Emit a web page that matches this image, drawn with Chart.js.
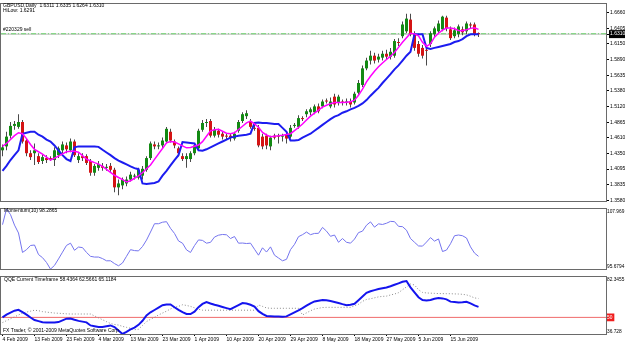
<!DOCTYPE html>
<html>
<head>
<meta charset="utf-8">
<script src="https://cdn.jsdelivr.net/npm/chart.js@4/dist/chart.umd.min.js"></script>
<style>
  html, body { margin: 0; padding: 0; background: #fff; }
  #wrap { position: relative; width: 625px; height: 343px; overflow: hidden; }
  canvas { position: absolute; left: 0; }
</style>
</head>
<body>
<div id="wrap">
  <canvas id="main" width="625" height="205" style="top:0px"></canvas>
  <canvas id="mom" width="625" height="68" style="top:205px"></canvas>
  <canvas id="qqe" width="625" height="70" style="top:273px"></canvas>
</div>
<script>
// GBPUSD daily bars, 4 Feb 2009 .. 23 Jun 2009 (Sunday bars included)
var opens = [
  1.4404,1.4468,1.4644,1.4804,1.4788,1.4868,1.4564,1.4356,1.4356,1.4308,
  1.4228,1.4276,1.4276,1.4244,1.4324,1.4404,1.4484,1.4404,1.4548,1.4244,
  1.4308,1.4308,1.4228,1.4036,1.4116,1.4148,1.4116,1.4148,1.4084,1.3796,
  1.3828,1.3860,1.3924,1.3972,1.3956,1.3988,1.4084,1.4276,1.4500,1.4468,
  1.4484,1.4548,1.4708,1.4548,1.4436,1.4308,1.4260,1.4260,1.4356,1.4436,
  1.4740,1.4852,1.4884,1.4644,1.4724,1.4676,1.4644,1.4644,1.4596,1.4724,
  1.4884,1.4964,1.4884,1.4772,1.4772,1.4628,1.4644,1.4468,1.4644,1.4644,
  1.4628,1.4660,1.4628,1.4804,1.4788,1.4932,1.4996,1.5028,1.5028,1.5124,
  1.5124,1.5220,1.5124,1.5284,1.5188,1.5204,1.5188,1.5204,1.5188,1.5348,
  1.5476,1.5748,1.5876,1.5956,1.5892,1.5924,1.5988,1.5940,1.5956,1.6180,
  1.6276,1.6356,1.6548,1.6308,1.6148,1.6084,1.6052,1.6148,1.6308,1.6356,
  1.6388,1.6580,1.6388,1.6276,1.6308,1.6388,1.6356,1.6468,1.6468,1.6311
];
var highs = [
  1.4500,1.4708,1.4868,1.4884,1.4996,1.4900,1.4596,1.4404,1.4516,1.4356,
  1.4340,1.4324,1.4308,1.4452,1.4468,1.4548,1.4532,1.4596,1.4580,1.4356,
  1.4356,1.4340,1.4260,1.4180,1.4228,1.4196,1.4180,1.4196,1.4116,1.3924,
  1.3956,1.3972,1.4052,1.4020,1.4116,1.4148,1.4308,1.4548,1.4548,1.4532,
  1.4612,1.4788,1.4756,1.4580,1.4468,1.4356,1.4356,1.4388,1.4516,1.4756,
  1.4900,1.4916,1.4916,1.4788,1.4756,1.4708,1.4676,1.4676,1.4708,1.4900,
  1.5028,1.5060,1.4916,1.4820,1.4820,1.4676,1.4676,1.4644,1.4676,1.4676,
  1.4676,1.4692,1.4820,1.4852,1.4980,1.4964,1.5076,1.5108,1.5156,1.5172,
  1.5236,1.5252,1.5268,1.5332,1.5316,1.5236,1.5252,1.5252,1.5364,1.5556,
  1.5796,1.5924,1.6036,1.6004,1.5988,1.6036,1.6052,1.6084,1.6228,1.6244,
  1.6516,1.6644,1.6644,1.6356,1.6196,1.6132,1.6100,1.6356,1.6436,1.6532,
  1.6612,1.6612,1.6436,1.6420,1.6468,1.6436,1.6516,1.6500,1.6500,1.6335
];
var lows = [
  1.4308,1.4404,1.4596,1.4740,1.4756,1.4516,1.4308,1.4244,1.4164,1.4180,
  1.4180,1.4196,1.4228,1.4148,1.4276,1.4356,1.4356,1.4372,1.4292,1.4196,
  1.4228,1.4164,1.3988,1.3988,1.4068,1.4068,1.4068,1.4036,1.3716,1.3668,
  1.3764,1.3812,1.3892,1.3924,1.3924,1.3924,1.4052,1.4244,1.4420,1.4420,
  1.4436,1.4516,1.4532,1.4436,1.4308,1.4228,1.4116,1.4212,1.4324,1.4404,
  1.4708,1.4788,1.4612,1.4612,1.4612,1.4580,1.4580,1.4548,1.4564,1.4692,
  1.4852,1.4916,1.4756,1.4724,1.4452,1.4420,1.4420,1.4404,1.4580,1.4516,
  1.4548,1.4516,1.4596,1.4772,1.4756,1.4884,1.4948,1.4980,1.4996,1.5012,
  1.5092,1.5172,1.5092,1.5108,1.5140,1.5140,1.5140,1.5108,1.5156,1.5316,
  1.5444,1.5716,1.5812,1.5828,1.5844,1.5876,1.5892,1.5892,1.5924,1.6116,
  1.6244,1.6324,1.6276,1.6036,1.5940,1.5908,1.5796,1.6100,1.6260,1.6324,
  1.6356,1.6356,1.6212,1.6244,1.6260,1.6292,1.6308,1.6404,1.6276,1.6264
];
var closes = [
  1.4452,1.4628,1.4804,1.4836,1.4868,1.4548,1.4356,1.4292,1.4404,1.4212,
  1.4292,1.4244,1.4260,1.4404,1.4436,1.4500,1.4420,1.4548,1.4324,1.4308,
  1.4276,1.4196,1.4036,1.4148,1.4180,1.4116,1.4132,1.4084,1.3796,1.3860,
  1.3924,1.3924,1.4004,1.3988,1.4084,1.4100,1.4276,1.4516,1.4468,1.4484,
  1.4564,1.4756,1.4564,1.4484,1.4356,1.4260,1.4308,1.4356,1.4484,1.4724,
  1.4852,1.4868,1.4644,1.4740,1.4660,1.4628,1.4628,1.4612,1.4676,1.4868,
  1.4996,1.5012,1.4788,1.4756,1.4484,1.4468,1.4484,1.4612,1.4612,1.4628,
  1.4644,1.4596,1.4772,1.4820,1.4932,1.4916,1.5044,1.5076,1.5124,1.5044,
  1.5204,1.5204,1.5204,1.5156,1.5284,1.5188,1.5204,1.5156,1.5332,1.5508,
  1.5748,1.5876,1.5956,1.5876,1.5940,1.5988,1.5940,1.6020,1.6196,1.6164,
  1.6468,1.6564,1.6308,1.6084,1.5988,1.5956,1.6036,1.6324,1.6404,1.6484,
  1.6596,1.6404,1.6244,1.6372,1.6436,1.6340,1.6484,1.6452,1.6308,1.6310
];
// fast moving average (magenta)
var maFast = [
  1.4468,1.4516,1.4580,1.4644,1.4692,1.4676,1.4596,1.4500,1.4420,1.4380,
  1.4340,1.4292,1.4244,1.4276,1.4308,1.4346,1.4380,1.4388,1.4388,1.4372,
  1.4316,1.4260,1.4228,1.4201,1.4177,1.4140,1.4090,1.4041,1.3994,1.3958,
  1.3922,1.3886,1.3905,1.3945,1.3985,1.4036,1.4100,1.4164,1.4254,1.4345,
  1.4434,1.4526,1.4548,1.4540,1.4508,1.4476,1.4444,1.4450,1.4471,1.4490,
  1.4545,1.4634,1.4724,1.4742,1.4748,1.4716,1.4684,1.4676,1.4690,1.4745,
  1.4799,1.4854,1.4884,1.4838,1.4783,1.4697,1.4655,1.4628,1.4634,1.4641,
  1.4650,1.4663,1.4676,1.4727,1.4778,1.4836,1.4900,1.4964,1.5014,1.5063,
  1.5111,1.5143,1.5169,1.5188,1.5188,1.5188,1.5193,1.5199,1.5225,1.5306,
  1.5407,1.5526,1.5618,1.5702,1.5775,1.5836,1.5894,1.5948,1.6009,1.6092,
  1.6175,1.6250,1.6324,1.6314,1.6281,1.6175,1.6110,1.6148,1.6260,1.6324,
  1.6374,1.6410,1.6412,1.6398,1.6370,1.6366,1.6383,1.6404,1.6414,1.6388
];
// trailing line (blue)
var trail = [
  1.4068,1.4148,1.4244,1.4324,1.4404,1.4676,1.4692,1.4708,1.4708,1.4660,
  1.4628,1.4580,1.4548,1.4484,1.4404,1.4324,1.4260,1.4228,1.4452,1.4468,
  1.4468,1.4468,1.4468,1.4468,1.4460,1.4412,1.4367,1.4324,1.4276,1.4236,
  1.4204,1.4172,1.4140,1.4111,1.4094,1.3860,1.3852,1.3860,1.3868,1.3892,
  1.3988,1.4068,1.4156,1.4244,1.4324,1.4540,1.4532,1.4524,1.4516,1.4404,
  1.4396,1.4420,1.4452,1.4484,1.4516,1.4548,1.4580,1.4612,1.4628,1.4644,
  1.4652,1.4660,1.4676,1.4852,1.4860,1.4852,1.4852,1.4844,1.4836,1.4836,
  1.4772,1.4708,1.4564,1.4564,1.4572,1.4612,1.4644,1.4676,1.4724,1.4772,
  1.4820,1.4868,1.4916,1.4956,1.4980,1.5020,1.5044,1.5076,1.5100,1.5132,
  1.5172,1.5228,1.5300,1.5364,1.5428,1.5508,1.5580,1.5652,1.5732,1.5796,
  1.5876,1.5956,1.6020,1.6308,1.6308,1.6308,1.6084,1.6068,1.6084,1.6100,
  1.6116,1.6132,1.6148,1.6180,1.6196,1.6228,1.6276,1.6308,1.6308,1.6308
];
var momentum = [
  104.75,107.97,106.80,104.66,103.05,99.08,99.65,100.50,100.60,98.65,
  98.02,97.04,95.68,96.44,97.76,99.14,100.52,100.97,99.52,100.18,
  100.07,99.08,98.29,98.14,98.14,97.83,97.38,97.38,96.81,96.36,
  96.93,98.29,99.65,99.46,99.40,100.29,101.60,103.24,104.94,104.94,
  105.25,105.36,104.00,102.96,101.43,100.97,99.61,99.08,100.48,101.64,
  101.54,100.97,101.14,102.22,102.60,102.75,102.68,101.92,102.33,100.97,
  101.00,100.90,100.97,99.73,98.52,100.03,99.16,100.22,98.52,97.95,
  97.38,97.68,99.65,100.73,102.30,102.71,103.24,102.71,102.96,102.98,
  104.19,103.43,102.37,102.64,101.16,101.92,101.16,100.97,101.81,103.13,
  103.43,104.64,105.32,104.24,104.91,104.79,105.04,105.42,105.36,104.41,
  104.34,103.62,101.92,101.16,100.41,100.37,101.20,102.11,101.39,101.84,
  99.27,99.57,100.86,102.49,102.64,102.49,102.03,100.22,98.95,98.2865
];
var qqeRsi = [
  49.96,52.16,53.83,55.36,56.04,54.21,52.16,49.88,47.90,46.99,
  46.08,45.85,45.85,45.85,46.23,47.60,48.97,49.12,48.13,47.22,
  46.61,46.00,43.57,42.96,42.35,42.35,42.96,43.57,42.28,39.50,
  36.73,38.50,40.38,41.82,44.03,47.30,51.63,54.06,55.89,57.79,
  59.77,60.30,60.30,58.09,56.04,54.14,52.69,52.69,54.52,58.17,
  60.75,62.27,61.13,60.07,59.23,58.32,57.41,56.50,58.17,59.77,
  61.44,61.06,60.07,58.55,54.97,52.77,51.10,50.95,50.79,50.64,
  50.49,50.79,52.47,54.06,55.66,57.41,59.31,61.21,62.73,63.34,
  63.95,63.64,63.03,62.35,61.51,60.60,59.77,60.07,60.83,63.72,
  66.68,69.57,70.87,71.78,72.61,73.22,73.83,74.89,76.03,77.18,
  78.39,79.00,73.98,70.03,66.08,63.87,63.49,63.87,64.86,65.54,
  65.16,64.40,62.58,62.27,61.97,62.05,62.50,61.21,59.61,58.4364
];
var qqeTrail = [
  45.85,47.37,48.89,50.41,51.93,53.45,54.21,54.97,55.73,55.35,
  54.59,54.21,53.83,53.45,53.30,53.07,52.85,52.69,52.69,52.69,
  52.69,52.69,52.69,51.17,49.65,48.13,46.61,45.09,44.33,43.87,
  42.81,42.05,41.29,40.15,40.53,43.57,46.61,48.51,50.03,51.93,
  53.45,54.97,56.72,58.02,58.78,60.07,59.54,58.78,57.64,56.50,
  55.73,55.73,55.73,55.73,55.73,55.73,55.73,55.73,55.73,55.73,
  55.73,55.73,55.73,55.73,59.92,58.78,57.56,57.26,57.26,57.26,
  57.26,57.26,57.26,57.26,57.26,51.93,53.61,55.28,56.65,57.26,
  57.87,58.02,58.02,58.02,58.02,58.02,58.02,58.02,59.23,60.45,
  62.81,64.33,64.86,65.62,66.38,66.76,66.99,67.90,68.66,69.72,
  72.08,74.36,76.64,75.88,72.08,69.95,69.50,69.35,69.19,69.04,
  68.97,68.93,68.89,68.74,68.66,68.43,67.98,66.91,65.54,65.1184
];

var priceTicks = [1.3580,1.3835,1.4095,1.4350,1.4610,1.4865,1.5120,1.5380,1.5635,1.5890,1.6150,1.6405,1.6660];
var priceMin = 1.3572, priceMax = 1.6804;
var bidPrice = 1.6310;
var orderPrice = 1.6316;
var momMin = 95.6794, momMax = 107.969;
var momLabels = ['95.6794', '107.969'];
var qqeMin = 36.728, qqeMax = 82.3455, qqeLevel = 50;
var qqeLabels = ['36.728', '50', '82.3455'];
var dateBars = [0,8,16,24,32,40,48,56,64,72,80,88,96,104,112];
var dateLabels = ['4 Feb 2009','13 Feb 2009','23 Feb 2009','4 Mar 2009','13 Mar 2009','23 Mar 2009',
  '1 Apr 2009','10 Apr 2009','20 Apr 2009','29 Apr 2009','8 May 2009','18 May 2009','27 May 2009',
  '5 Jun 2009','15 Jun 2009'];

Chart.defaults.font.family = "'Liberation Sans', Arial, sans-serif";
Chart.defaults.font.size = 5;
Chart.defaults.color = '#000';

var FONT = "5px 'Liberation Sans', Arial, sans-serif";
var X_MIN = -0.375, X_MAX = 150.875;
var AXIS_W = 19;

function pts(arr) {
  return arr.map(function (v, i) { return { x: i, y: v }; });
}
function flat(v) {
  return [{ x: X_MIN, y: v }, { x: X_MAX, y: v }];
}

var frame = {
  id: 'frame',
  afterDraw: function (chart) {
    var a = chart.chartArea, c = chart.ctx;
    c.save();
    c.strokeStyle = '#6a6a6a';
    c.lineWidth = 1;
    c.strokeRect(Math.round(a.left) - 0.5, Math.round(a.top) - 0.5,
      Math.round(a.right - a.left) + 1, Math.round(a.bottom - a.top) + 1);
    c.restore();
  }
};

function textPlugin(items) {
  return {
    id: 'texts',
    afterDraw: function (chart) {
      var c = chart.ctx;
      c.save();
      c.font = FONT;
      c.fillStyle = '#000';
      c.textBaseline = 'top';
      items.forEach(function (t) { c.fillText(t[0], t[1], t[2]); });
      c.restore();
    }
  };
}

function hiddenX() {
  return { type: 'linear', min: X_MIN, max: X_MAX, offset: false, display: false };
}

var common = {
  responsive: false,
  animation: false,
  devicePixelRatio: 1,
  plugins: { legend: { display: false }, tooltip: { enabled: false } },
  events: []
};

// main price panel
new Chart(document.getElementById('main'), {
  type: 'bar',
  data: {
    datasets: [
      {
        type: 'line', data: pts(maFast), borderColor: '#ff00ff', borderWidth: 1.5,
        pointRadius: 0, tension: 0, order: -2
      },
      {
        type: 'line', data: pts(trail), borderColor: '#1c1cf0', borderWidth: 2,
        pointRadius: 0, tension: 0, order: -1
      },
      {
        type: 'line', data: flat(bidPrice), borderColor: '#b4b4b4', borderWidth: 1,
        pointRadius: 0, order: 3
      },
      {
        type: 'line', data: flat(orderPrice), borderColor: '#6fd36f', borderWidth: 1,
        borderDash: [5, 2, 1, 2], pointRadius: 0, order: 2
      },
      {
        data: opens.map(function (o, i) { return { x: i, y: [opens[i], closes[i]] }; }),
        barThickness: 3, grouped: false, minBarLength: 1, inflateAmount: 0, order: 0,
        backgroundColor: function (ctx) {
          var i = ctx.dataIndex;
          if (closes[i] > opens[i]) return '#138a13';
          if (closes[i] < opens[i]) return '#d41414';
          return '#202020';
        }
      },
      {
        data: opens.map(function (o, i) { return { x: i, y: [lows[i], highs[i]] }; }),
        barThickness: 1, grouped: false, minBarLength: 1, inflateAmount: 0, order: 1,
        backgroundColor: '#4a4a4a'
      }
    ]
  },
  options: Object.assign({}, common, {
    layout: { padding: { left: 1, top: 2, right: 0, bottom: 1 } },
    scales: {
      x: hiddenX(),
      y: {
        position: 'right', min: priceMin, max: priceMax,
        afterFit: function (s) { s.width = AXIS_W; },
        afterBuildTicks: function (s) {
          s.ticks = priceTicks.concat([bidPrice]).map(function (v) { return { value: v }; });
        },
        ticks: {
          autoSkip: false, padding: 1, font: { size: 5 },
          callback: function (v) { return v.toFixed(4); },
          color: function (ctx) { return ctx.tick && ctx.tick.value === bidPrice ? '#fff' : '#000'; },
          showLabelBackdrop: function (ctx) { return !!ctx.tick && ctx.tick.value === bidPrice; },
          backdropColor: '#000',
          backdropPadding: { top: 1, bottom: 1, left: 1, right: 3 }
        },
        grid: { drawOnChartArea: false, tickLength: 3, color: '#000' },
        border: { color: '#6a6a6a' }
      }
    }
  }),
  plugins: [frame, textPlugin([
    ['GBPUSD,Daily  1.6311 1.6335 1.6264 1.6310', 3, 3],
    ['HiLow: 1.6291', 3, 8],
    ['#220329 sell', 3, 27]
  ])]
});

// momentum panel
new Chart(document.getElementById('mom'), {
  type: 'line',
  data: {
    datasets: [{
      data: pts(momentum), borderColor: '#7474ee', borderWidth: 1,
      pointRadius: 0, tension: 0
    }]
  },
  options: Object.assign({}, common, {
    layout: { padding: { left: 1, top: 1, right: 0, bottom: 1 } },
    scales: {
      x: hiddenX(),
      y: {
        position: 'right', min: momMin, max: momMax,
        afterFit: function (s) { s.width = AXIS_W; },
        afterBuildTicks: function (s) {
          var per = (momMax - momMin) / (s.bottom - s.top || 66);
          s.ticks = [{ value: momMin + 2.5 * per }, { value: momMax - 3.5 * per }];
        },
        ticks: {
          autoSkip: false, padding: 1, font: { size: 4.8 },
          callback: function (v, i) { return momLabels[i]; }
        },
        grid: { display: false, drawTicks: false },
        border: { color: '#6a6a6a' }
      }
    }
  }),
  plugins: [frame, textPlugin([
    ['Momentum(10) ' + momentum[momentum.length - 1], 4, 3]
  ])]
});

// QQE panel
new Chart(document.getElementById('qqe'), {
  type: 'line',
  data: {
    datasets: [
      {
        data: pts(qqeRsi), borderColor: '#1414ee', borderWidth: 2,
        pointRadius: 0, tension: 0, order: 0
      },
      {
        data: pts(qqeTrail), borderColor: '#8a8a8a', borderWidth: 1, borderDash: [1, 2],
        pointRadius: 0, tension: 0, order: 1
      },
      {
        data: flat(qqeLevel), borderColor: '#f06a6a', borderWidth: 1,
        pointRadius: 0, order: 2
      }
    ]
  },
  options: Object.assign({}, common, {
    layout: { padding: { left: 1, top: 1, right: 0, bottom: 0 } },
    scales: {
      x: {
        type: 'linear', min: X_MIN, max: X_MAX, offset: false, position: 'bottom',
        afterBuildTicks: function (s) {
          s.ticks = dateBars.map(function (v) { return { value: v }; });
        },
        afterFit: function (s) { s.height = 9; },
        ticks: {
          autoSkip: false, maxRotation: 0, minRotation: 0, align: 'start', padding: 1,
          font: { size: 5 },
          callback: function (v, i) { return dateLabels[i]; }
        },
        grid: { drawOnChartArea: false, tickLength: 2, color: '#000' },
        border: { display: false }
      },
      y: {
        position: 'right', min: qqeMin, max: qqeMax,
        afterFit: function (s) { s.width = AXIS_W; },
        afterBuildTicks: function (s) {
          var per = (qqeMax - qqeMin) / (s.bottom - s.top || 60);
          s.ticks = [{ value: qqeMin + 2.5 * per }, { value: qqeLevel }, { value: qqeMax - 2.5 * per }];
        },
        ticks: {
          autoSkip: false, padding: 1, font: { size: 4.8 },
          callback: function (v, i) { return qqeLabels[i]; },
          color: function (ctx) { return ctx.index === 1 ? '#fff' : '#000'; },
          showLabelBackdrop: function (ctx) { return ctx.index === 1; },
          backdropColor: '#f01e1e',
          backdropPadding: { top: 1, bottom: 1, left: 1, right: 2 }
        },
        grid: { display: false, drawTicks: false },
        border: { color: '#6a6a6a' }
      }
    }
  }),
  plugins: [frame, textPlugin([
    ['QQE Current Timeframe 58.4364 62.5661 65.1184', 4, 4],
    ['FX Trader, \u00a9 2001-2009 MetaQuotes Software Corp.', 3, 55]
  ])]
});
</script>
</body>
</html>
